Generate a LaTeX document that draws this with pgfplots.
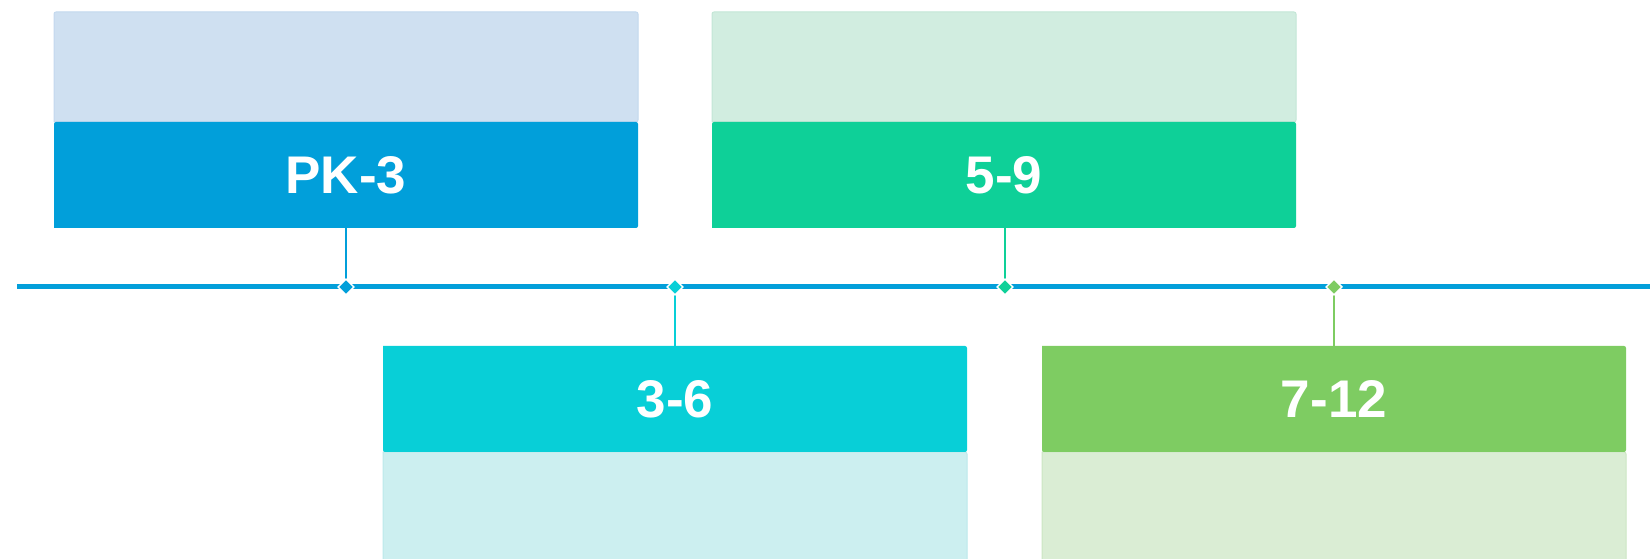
\documentclass[border=0pt]{standalone}
\usepackage{pgfplots}
\pgfplotsset{compat=1.18}
\usepackage{fontspec}
\setmainfont{Liberation Sans}
\definecolor{lineblue}{HTML}{039FDA}
\definecolor{aDark}{HTML}{019FDA}
\definecolor{aLight}{HTML}{CFE0F1}
\definecolor{aRim}{HTML}{C3D8EE}
\definecolor{bDark}{HTML}{0ED098}
\definecolor{bLight}{HTML}{D1EDE0}
\definecolor{bRim}{HTML}{C3E6D6}
\definecolor{cDark}{HTML}{08CFD7}
\definecolor{cLight}{HTML}{CCEFF0}
\definecolor{cRim}{HTML}{BCE9EB}
\definecolor{dDark}{HTML}{7ECC62}
\definecolor{dLight}{HTML}{DAEDD4}
\definecolor{dRim}{HTML}{CCE6C3}
\tikzset{lbl/.style={font=\fontsize{53bp}{60bp}\selectfont\bfseries, text=white, inner sep=0pt}}
\begin{document}
\begin{tikzpicture}
\begin{axis}[
  scale only axis, width=1650bp, height=559bp,
  xmin=0, xmax=1650, ymin=0, ymax=559,
  hide axis, clip=true,
]
\draw[draw=none] (rel axis cs:0,0) rectangle (rel axis cs:1,1);
% light panels
\addplot[fill=aLight, draw=aRim, line width=1bp, rounded corners=2bp] coordinates {(54,437) (638,437) (638,547) (54,547) (54,437)};
\addplot[fill=bLight, draw=bRim, line width=1bp, rounded corners=2bp] coordinates {(712,437) (1296,437) (1296,547) (712,547) (712,437)};
\addplot[fill=cLight, draw=cRim, line width=1bp, rounded corners=2bp] coordinates {(383,107) (967,107) (967,-3) (383,-3) (383,107)};
\addplot[fill=dLight, draw=dRim, line width=1bp, rounded corners=2bp] coordinates {(1042,107) (1626,107) (1626,-3) (1042,-3) (1042,107)};
% dark panels
\addplot[fill=aDark, draw=none, rounded corners=2bp] coordinates {(54,331) (638,331) (638,437) (54,437) (54,331)};
\addplot[fill=bDark, draw=none, rounded corners=2bp] coordinates {(712,331) (1296,331) (1296,437) (712,437) (712,331)};
\addplot[fill=cDark, draw=none, rounded corners=2bp] coordinates {(383,213) (967,213) (967,107) (383,107) (383,213)};
\addplot[fill=dDark, draw=none, rounded corners=2bp] coordinates {(1042,213) (1626,213) (1626,107) (1042,107) (1042,213)};
% connectors
\addplot[aDark, line width=1.5bp] coordinates {(346,331) (346,272)};
\addplot[bDark, line width=1.5bp] coordinates {(1005,331) (1005,272)};
\addplot[cDark, line width=1.5bp] coordinates {(675,272) (675,213)};
\addplot[dDark, line width=1.5bp] coordinates {(1334,272) (1334,213)};
% timeline
\addplot[lineblue, line width=5bp] coordinates {(17,272) (1650,272)};
% markers
\addplot[only marks, mark=square*, mark size=5.6bp, mark options={rotate=45, fill=aDark, draw=white, line width=1.5bp}] coordinates {(346,272)};
\addplot[only marks, mark=square*, mark size=5.6bp, mark options={rotate=45, fill=cDark, draw=white, line width=1.5bp}] coordinates {(675,272)};
\addplot[only marks, mark=square*, mark size=5.6bp, mark options={rotate=45, fill=bDark, draw=white, line width=1.5bp}] coordinates {(1005,272)};
\addplot[only marks, mark=square*, mark size=5.6bp, mark options={rotate=45, fill=dDark, draw=white, line width=1.5bp}] coordinates {(1334,272)};
% labels
\node[lbl] at (axis cs:346,384) {PK-3};
\node[lbl] at (axis cs:1004,384) {5-9};
\node[lbl] at (axis cs:675,160) {3-6};
\node[lbl] at (axis cs:1334,160) {7-12};
\end{axis}
\end{tikzpicture}
\end{document}
